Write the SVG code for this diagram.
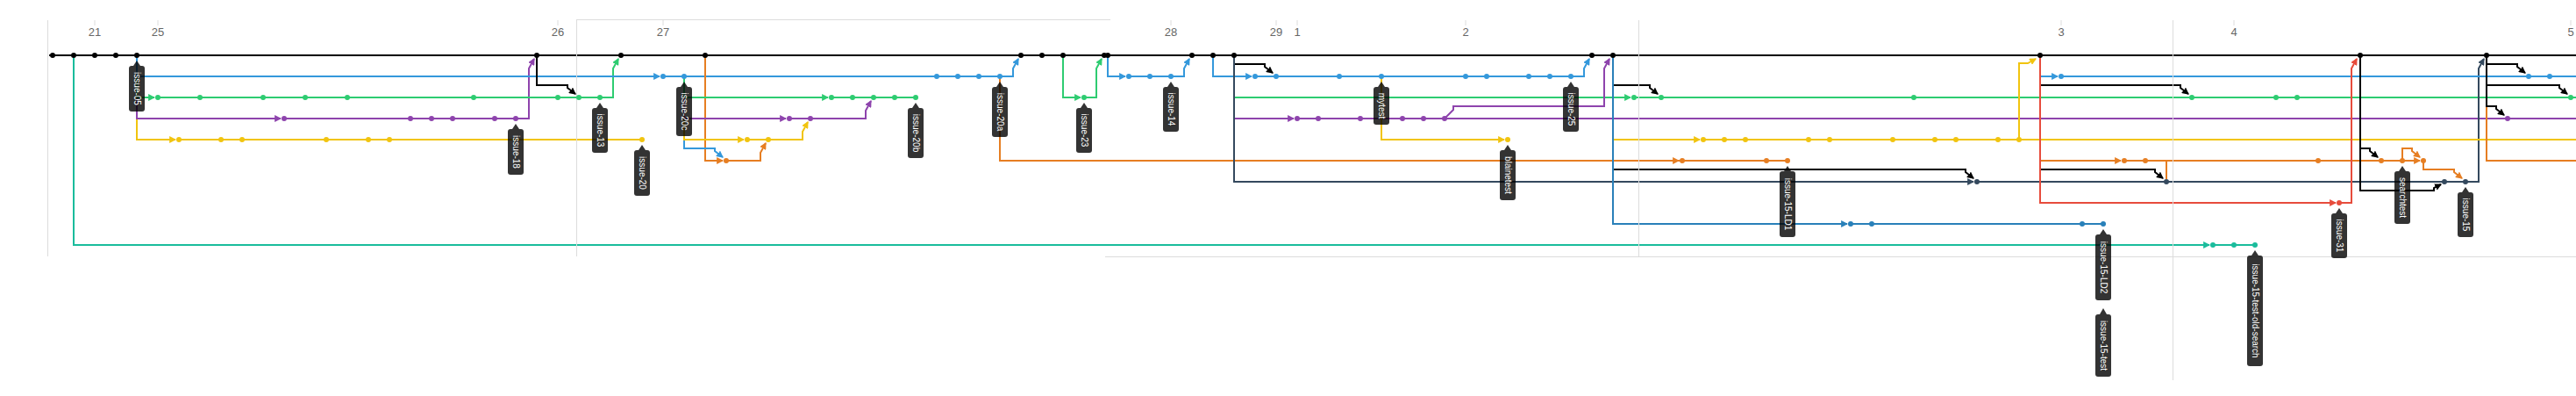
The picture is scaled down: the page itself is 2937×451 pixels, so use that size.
<svg xmlns="http://www.w3.org/2000/svg" width="2937" height="451" viewBox="0 0 2937 451">
<style>
.l{fill:none;stroke-width:2}
.k{stroke:#000}.b{stroke:#3498db}.g{stroke:#2ecc71}.p{stroke:#8e44ad}.y{stroke:#f1c40f}.o{stroke:#e67e22}.s{stroke:#34495e}.r{stroke:#e74c3c}.b2{stroke:#2980b9}.t{stroke:#1abc9c}
.fk{fill:#000}.fb{fill:#3498db}.fg{fill:#2ecc71}.fp{fill:#8e44ad}.fy{fill:#f1c40f}.fo{fill:#e67e22}.fs{fill:#34495e}.fr{fill:#e74c3c}.fb2{fill:#2980b9}.ft{fill:#1abc9c}
.grid{stroke:#dcdcdc;stroke-width:1;fill:none}
.day{font-family:"Liberation Sans",Arial,sans-serif;font-size:13px;fill:#666;text-anchor:middle}
.tag rect,.tag path{fill:#000;fill-opacity:0.8}
.tag text{font-family:"Liberation Sans",Arial,sans-serif;font-size:10px;fill:#fff;text-anchor:middle;dominant-baseline:central}
</style>
<defs>
<marker id="ak" markerUnits="userSpaceOnUse" markerWidth="8" markerHeight="8" viewBox="0 0 7 7" refX="6" refY="3.5" orient="auto"><path d="M0,0L7,3.5L0,7z" fill="#000"/></marker>
<marker id="ab" markerUnits="userSpaceOnUse" markerWidth="8" markerHeight="8" viewBox="0 0 7 7" refX="6" refY="3.5" orient="auto"><path d="M0,0L7,3.5L0,7z" fill="#3498db"/></marker>
<marker id="ag" markerUnits="userSpaceOnUse" markerWidth="8" markerHeight="8" viewBox="0 0 7 7" refX="6" refY="3.5" orient="auto"><path d="M0,0L7,3.5L0,7z" fill="#2ecc71"/></marker>
<marker id="ap" markerUnits="userSpaceOnUse" markerWidth="8" markerHeight="8" viewBox="0 0 7 7" refX="6" refY="3.5" orient="auto"><path d="M0,0L7,3.5L0,7z" fill="#8e44ad"/></marker>
<marker id="ay" markerUnits="userSpaceOnUse" markerWidth="8" markerHeight="8" viewBox="0 0 7 7" refX="6" refY="3.5" orient="auto"><path d="M0,0L7,3.5L0,7z" fill="#f1c40f"/></marker>
<marker id="ao" markerUnits="userSpaceOnUse" markerWidth="8" markerHeight="8" viewBox="0 0 7 7" refX="6" refY="3.5" orient="auto"><path d="M0,0L7,3.5L0,7z" fill="#e67e22"/></marker>
<marker id="as" markerUnits="userSpaceOnUse" markerWidth="8" markerHeight="8" viewBox="0 0 7 7" refX="6" refY="3.5" orient="auto"><path d="M0,0L7,3.5L0,7z" fill="#34495e"/></marker>
<marker id="ar" markerUnits="userSpaceOnUse" markerWidth="8" markerHeight="8" viewBox="0 0 7 7" refX="6" refY="3.5" orient="auto"><path d="M0,0L7,3.5L0,7z" fill="#e74c3c"/></marker>
<marker id="ab2" markerUnits="userSpaceOnUse" markerWidth="8" markerHeight="8" viewBox="0 0 7 7" refX="6" refY="3.5" orient="auto"><path d="M0,0L7,3.5L0,7z" fill="#2980b9"/></marker>
<marker id="at" markerUnits="userSpaceOnUse" markerWidth="8" markerHeight="8" viewBox="0 0 7 7" refX="6" refY="3.5" orient="auto"><path d="M0,0L7,3.5L0,7z" fill="#1abc9c"/></marker>
</defs>
<rect width="2937" height="451" fill="#fff"/>
<g id="axis">
<g class="grid">
<path d="M108,23V29M180,23V29M636,23V29M756,23V29M1335,23V29M1455,23V29M1479,23V29M1671,23V29M2350,23V29M2547,23V29M2931,23V29"/>
</g>
<text class="day" x="108" y="41">21</text>
<text class="day" x="180" y="41">25</text>
<text class="day" x="636" y="41">26</text>
<text class="day" x="756" y="41">27</text>
<text class="day" x="1335" y="41">28</text>
<text class="day" x="1455" y="41">29</text>
<text class="day" x="1479" y="41">1</text>
<text class="day" x="1671" y="41">2</text>
<text class="day" x="2350" y="41">3</text>
<text class="day" x="2547" y="41">4</text>
<text class="day" x="2931" y="41">5</text>
</g>
<g id="connectors">
<path class="l k" d="M56,63H2937"/>
<path class="l t" d="M84,63V279H2519" marker-end="url(#at)"/>
<path class="l t" d="M2523,279H2571"/>
<path class="l y" d="M156,63V159H200" marker-end="url(#ay)"/>
<path class="l y" d="M204,159H732"/>
<path class="l p" d="M156,63V135H320" marker-end="url(#ap)"/>
<path class="l p" d="M324,135H603V78L609,67" marker-end="url(#ap)"/>
<path class="l g" d="M156,63V111H176" marker-end="url(#ag)"/>
<path class="l g" d="M180,111H699V78L705,67" marker-end="url(#ag)"/>
<path class="l b" d="M156,63V87H752" marker-end="url(#ab)"/>
<path class="l b" d="M756,87H1155V78L1161,67" marker-end="url(#ab)"/>
<path class="l k" d="M612,63V97H647V100L656,107" marker-end="url(#ak)"/>
<path class="l o" d="M804,63V183H824" marker-end="url(#ao)"/>
<path class="l o" d="M828,183H867V174L873,163" marker-end="url(#ao)"/>
<path class="l b" d="M780,87V169H815V172L824,179" marker-end="url(#ab)"/>
<path class="l y" d="M780,87V159H848" marker-end="url(#ay)"/>
<path class="l y" d="M852,159H915V150L921,139" marker-end="url(#ay)"/>
<path class="l p" d="M780,87V135H896" marker-end="url(#ap)"/>
<path class="l p" d="M900,135H987V126L993,115" marker-end="url(#ap)"/>
<path class="l g" d="M780,87V111H944" marker-end="url(#ag)"/>
<path class="l g" d="M948,111H1044"/>
<path class="l o" d="M1140,87V183H2038"/>
<path class="l g" d="M1212,63V111H1232" marker-end="url(#ag)"/>
<path class="l g" d="M1236,111H1250V78L1256,67" marker-end="url(#ag)"/>
<path class="l b" d="M1263,63V87H1283" marker-end="url(#ab)"/>
<path class="l b" d="M1287,87H1350V78L1356,67" marker-end="url(#ab)"/>
<path class="l b" d="M1383,63V87H1427" marker-end="url(#ab)"/>
<path class="l b" d="M1431,87H1806V78L1812,67" marker-end="url(#ab)"/>
<path class="l k" d="M1407,63V73H1442V76L1451,83" marker-end="url(#ak)"/>
<path class="l g" d="M1407,63V111H1859" marker-end="url(#ag)"/>
<path class="l g" d="M1863,111H2937"/>
<path class="l p" d="M1407,63V135H1475" marker-end="url(#ap)"/>
<path class="l p" d="M1479,135H2937"/>
<path class="l s" d="M1407,63V207H2250" marker-end="url(#as)"/>
<path class="l s" d="M2254,207H2826V78L2832,67" marker-end="url(#as)"/>
<path class="l p" d="M1647,135L1657,125V121H1829V78L1835,67" marker-end="url(#ap)"/>
<path class="l y" d="M1575,87V159H1715" marker-end="url(#ay)"/>
<path class="l k" d="M1839,63V97H1881V100L1890,107" marker-end="url(#ak)"/>
<path class="l k" d="M1839,63V193H2241V196L2250,203" marker-end="url(#ak)"/>
<path class="l y" d="M1839,63V159H1938" marker-end="url(#ay)"/>
<path class="l y" d="M1942,159H2937"/>
<path class="l o" d="M1839,63V183H1914" marker-end="url(#ao)"/>
<path class="l b2" d="M1839,63V255H2106" marker-end="url(#ab2)"/>
<path class="l b2" d="M2110,255H2398"/>
<path class="l y" d="M2302,159V72H2312L2321,67" marker-end="url(#ay)"/>
<path class="l b" d="M2326,63V87H2346" marker-end="url(#ab)"/>
<path class="l b" d="M2350,87H2937"/>
<path class="l k" d="M2326,63V97H2486V100L2495,107" marker-end="url(#ak)"/>
<path class="l o" d="M2326,63V183H2418" marker-end="url(#ao)"/>
<path class="l o" d="M2422,183H2739M2470,183V204"/>
<path class="l k" d="M2326,63V193H2457V196L2466,203" marker-end="url(#ak)"/>
<path class="l r" d="M2326,63V231H2663" marker-end="url(#ar)"/>
<path class="l r" d="M2667,231H2681V78L2687,67" marker-end="url(#ar)"/>
<path class="l k" d="M2691,63V217H2775V214L2783,210" marker-end="url(#ak)"/>
<path class="l k" d="M2691,63V169H2702V172L2711,179" marker-end="url(#ak)"/>
<path class="l o" d="M2739,183H2759" marker-end="url(#ao)"/>
<path class="l o" d="M2739,183V169H2750V172L2759,179" marker-end="url(#ao)"/>
<path class="l o" d="M2763,183V193H2798V196L2807,203" marker-end="url(#ao)"/>
<path class="l o" d="M2835,63V183H2937"/>
<path class="l k" d="M2835,63V73H2870V76L2879,83" marker-end="url(#ak)"/>
<path class="l k" d="M2835,63V97H2918V100L2927,107" marker-end="url(#ak)"/>
<path class="l k" d="M2835,63V121H2846V124L2855,131" marker-end="url(#ak)"/>
</g>
<g id="frame" class="grid">
<path d="M54.5,23V292M657.5,22V292M657,22.5H1266M1260,292.5H2937M1868.5,23V292M2477.5,23V433"/>
</g>
<g id="commits">
<g class="fk"><circle cx="60" cy="63" r="3"/><circle cx="84" cy="63" r="3"/><circle cx="108" cy="63" r="3"/><circle cx="132" cy="63" r="3"/><circle cx="156" cy="63" r="3"/><circle cx="612" cy="63" r="3"/><circle cx="708" cy="63" r="3"/><circle cx="804" cy="63" r="3"/><circle cx="1164" cy="63" r="3"/><circle cx="1188" cy="63" r="3"/><circle cx="1212" cy="63" r="3"/><circle cx="1259" cy="63" r="3"/><circle cx="1263" cy="63" r="3"/><circle cx="1359" cy="63" r="3"/><circle cx="1383" cy="63" r="3"/><circle cx="1407" cy="63" r="3"/><circle cx="1815" cy="63" r="3"/><circle cx="1839" cy="63" r="3"/><circle cx="2326" cy="63" r="3"/><circle cx="2691" cy="63" r="3"/><circle cx="2835" cy="63" r="3"/></g>
<g class="fb"><circle cx="756" cy="87" r="3"/><circle cx="780" cy="87" r="3"/><circle cx="1068" cy="87" r="3"/><circle cx="1092" cy="87" r="3"/><circle cx="1116" cy="87" r="3"/><circle cx="1140" cy="87" r="3"/><circle cx="1287" cy="87" r="3"/><circle cx="1311" cy="87" r="3"/><circle cx="1335" cy="87" r="3"/><circle cx="1431" cy="87" r="3"/><circle cx="1455" cy="87" r="3"/><circle cx="1527" cy="87" r="3"/><circle cx="1575" cy="87" r="3"/><circle cx="1671" cy="87" r="3"/><circle cx="1695" cy="87" r="3"/><circle cx="1743" cy="87" r="3"/><circle cx="1767" cy="87" r="3"/><circle cx="1791" cy="87" r="3"/><circle cx="2350" cy="87" r="3"/><circle cx="2883" cy="87" r="3"/><circle cx="2907" cy="87" r="3"/></g>
<g class="fg"><circle cx="180" cy="111" r="3"/><circle cx="228" cy="111" r="3"/><circle cx="300" cy="111" r="3"/><circle cx="348" cy="111" r="3"/><circle cx="396" cy="111" r="3"/><circle cx="540" cy="111" r="3"/><circle cx="636" cy="111" r="3"/><circle cx="660" cy="111" r="3"/><circle cx="684" cy="111" r="3"/><circle cx="948" cy="111" r="3"/><circle cx="972" cy="111" r="3"/><circle cx="996" cy="111" r="3"/><circle cx="1020" cy="111" r="3"/><circle cx="1044" cy="111" r="3"/><circle cx="1236" cy="111" r="3"/><circle cx="1863" cy="111" r="3"/><circle cx="1894" cy="111" r="3"/><circle cx="2182" cy="111" r="3"/><circle cx="2499" cy="111" r="3"/><circle cx="2595" cy="111" r="3"/><circle cx="2619" cy="111" r="3"/><circle cx="2931" cy="111" r="3"/></g>
<g class="fp"><circle cx="324" cy="135" r="3"/><circle cx="468" cy="135" r="3"/><circle cx="492" cy="135" r="3"/><circle cx="516" cy="135" r="3"/><circle cx="564" cy="135" r="3"/><circle cx="588" cy="135" r="3"/><circle cx="900" cy="135" r="3"/><circle cx="924" cy="135" r="3"/><circle cx="1479" cy="135" r="3"/><circle cx="1503" cy="135" r="3"/><circle cx="1551" cy="135" r="3"/><circle cx="1599" cy="135" r="3"/><circle cx="1623" cy="135" r="3"/><circle cx="1647" cy="135" r="3"/><circle cx="2859" cy="135" r="3"/></g>
<g class="fy"><circle cx="204" cy="159" r="3"/><circle cx="252" cy="159" r="3"/><circle cx="276" cy="159" r="3"/><circle cx="372" cy="159" r="3"/><circle cx="420" cy="159" r="3"/><circle cx="444" cy="159" r="3"/><circle cx="732" cy="159" r="3"/><circle cx="852" cy="159" r="3"/><circle cx="876" cy="159" r="3"/><circle cx="1719" cy="159" r="3"/><circle cx="1942" cy="159" r="3"/><circle cx="1966" cy="159" r="3"/><circle cx="1990" cy="159" r="3"/><circle cx="2062" cy="159" r="3"/><circle cx="2086" cy="159" r="3"/><circle cx="2158" cy="159" r="3"/><circle cx="2206" cy="159" r="3"/><circle cx="2230" cy="159" r="3"/><circle cx="2278" cy="159" r="3"/><circle cx="2302" cy="159" r="3"/></g>
<g class="fo"><circle cx="828" cy="183" r="3"/><circle cx="1918" cy="183" r="3"/><circle cx="2014" cy="183" r="3"/><circle cx="2038" cy="183" r="3"/><circle cx="2422" cy="183" r="3"/><circle cx="2446" cy="183" r="3"/><circle cx="2643" cy="183" r="3"/><circle cx="2715" cy="183" r="3"/><circle cx="2739" cy="183" r="3"/><circle cx="2763" cy="183" r="3"/></g>
<g class="fs"><circle cx="2254" cy="207" r="3"/><circle cx="2470" cy="207" r="3"/><circle cx="2787" cy="207" r="3"/><circle cx="2811" cy="207" r="3"/></g>
<g class="fr"><circle cx="2667" cy="231" r="3"/></g>
<g class="fb2"><circle cx="2110" cy="255" r="3"/><circle cx="2134" cy="255" r="3"/><circle cx="2374" cy="255" r="3"/><circle cx="2398" cy="255" r="3"/></g>
<g class="ft"><circle cx="2523" cy="279" r="3"/><circle cx="2547" cy="279" r="3"/><circle cx="2571" cy="279" r="3"/></g>
</g>
<g id="tag-issue-05" class="tag"><path d="M152,75L156,69L160,75z"/><rect x="147" y="75" width="18" height="52" rx="3"/><text transform="translate(156,101) rotate(90)">issue-05</text></g>
<g id="tag-issue-18" class="tag"><path d="M584,147L588,141L592,147z"/><rect x="579" y="147" width="18" height="52" rx="3"/><text transform="translate(588,173) rotate(90)">issue-18</text></g>
<g id="tag-issue-13" class="tag"><path d="M680,123L684,117L688,123z"/><rect x="675" y="123" width="18" height="51" rx="3"/><text transform="translate(684,148.5) rotate(90)">issue-13</text></g>
<g id="tag-issue-20" class="tag"><path d="M728,171L732,165L736,171z"/><rect x="723" y="171" width="18" height="52" rx="3"/><text transform="translate(732,197) rotate(90)">issue-20</text></g>
<g id="tag-issue-20c" class="tag"><path d="M776,99L780,93L784,99z"/><rect x="771" y="99" width="18" height="56" rx="3"/><text transform="translate(780,127) rotate(90)">issue-20c</text></g>
<g id="tag-issue-20b" class="tag"><path d="M1040,123L1044,117L1048,123z"/><rect x="1035" y="123" width="18" height="57" rx="3"/><text transform="translate(1044,151.5) rotate(90)">issue-20b</text></g>
<g id="tag-issue-20a" class="tag"><path d="M1136,99L1140,93L1144,99z"/><rect x="1131" y="99" width="18" height="57" rx="3"/><text transform="translate(1140,127.5) rotate(90)">issue-20a</text></g>
<g id="tag-issue-23" class="tag"><path d="M1232,123L1236,117L1240,123z"/><rect x="1227" y="123" width="18" height="51" rx="3"/><text transform="translate(1236,148.5) rotate(90)">issue-23</text></g>
<g id="tag-issue-14" class="tag"><path d="M1331,99L1335,93L1339,99z"/><rect x="1326" y="99" width="18" height="51" rx="3"/><text transform="translate(1335,124.5) rotate(90)">issue-14</text></g>
<g id="tag-mytest" class="tag"><path d="M1571,99L1575,93L1579,99z"/><rect x="1566" y="99" width="18" height="43" rx="3"/><text transform="translate(1575,120.5) rotate(90)">mytest</text></g>
<g id="tag-issue-25" class="tag"><path d="M1787,99L1791,93L1795,99z"/><rect x="1782" y="99" width="18" height="51" rx="3"/><text transform="translate(1791,124.5) rotate(90)">issue-25</text></g>
<g id="tag-blainetest" class="tag"><path d="M1715,171L1719,165L1723,171z"/><rect x="1710" y="171" width="18" height="57" rx="3"/><text transform="translate(1719,199.5) rotate(90)">blainetest</text></g>
<g id="tag-issue-15-LD1" class="tag"><path d="M2034,195L2038,189L2042,195z"/><rect x="2029" y="195" width="18" height="75" rx="3"/><text transform="translate(2038,232.5) rotate(90)">issue-15-LD1</text></g>
<g id="tag-issue-15-LD2" class="tag"><path d="M2394,267L2398,261L2402,267z"/><rect x="2389" y="267" width="18" height="75" rx="3"/><text transform="translate(2398,304.5) rotate(90)">issue-15-LD2</text></g>
<g id="tag-issue-15-test" class="tag"><path d="M2394,358L2398,351L2402,358z"/><rect x="2389" y="358" width="18" height="71" rx="3"/><text transform="translate(2398,393.5) rotate(90)">issue-15-test</text></g>
<g id="tag-issue-15-test-old-search" class="tag"><path d="M2567,291L2571,285L2575,291z"/><rect x="2562" y="291" width="18" height="126" rx="3"/><text transform="translate(2571,354) rotate(90)">issue-15-test-old-search</text></g>
<g id="tag-issue-31" class="tag"><path d="M2663,243L2667,237L2671,243z"/><rect x="2658" y="243" width="18" height="51" rx="3"/><text transform="translate(2667,268.5) rotate(90)">issue-31</text></g>
<g id="tag-searchtest" class="tag"><path d="M2735,195L2739,189L2743,195z"/><rect x="2730" y="195" width="18" height="60" rx="3"/><text transform="translate(2739,225) rotate(90)">searchtest</text></g>
<g id="tag-issue-15" class="tag"><path d="M2807,219L2811,213L2815,219z"/><rect x="2802" y="219" width="18" height="51" rx="3"/><text transform="translate(2811,244.5) rotate(90)">issue-15</text></g>
</svg>
